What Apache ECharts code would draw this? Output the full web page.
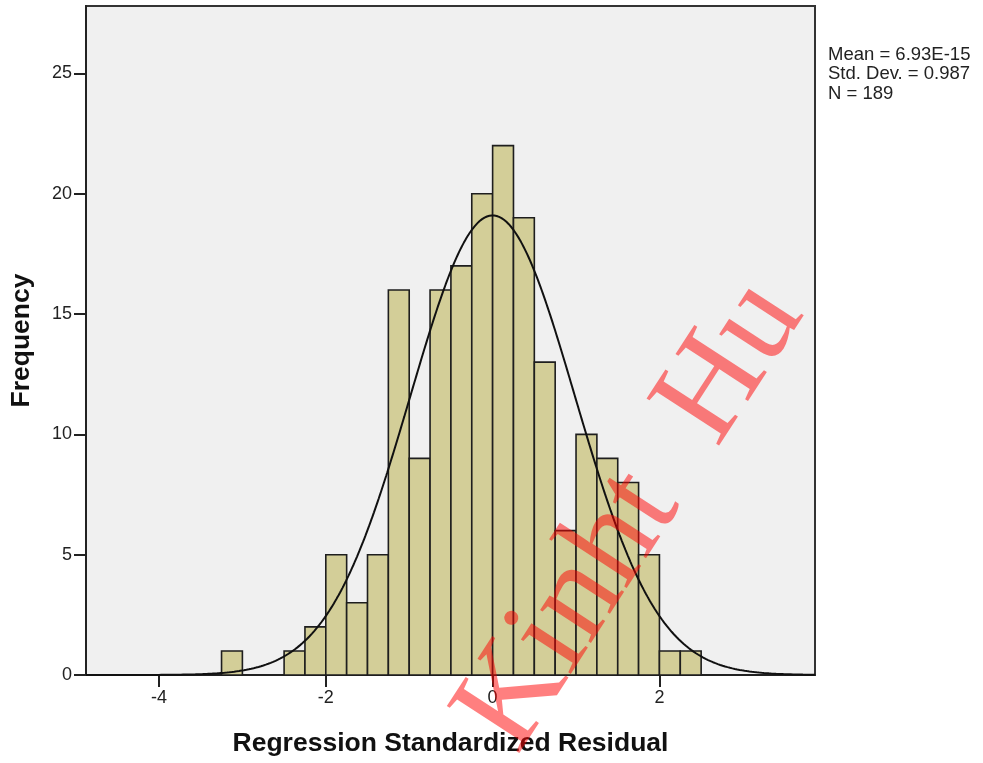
<!DOCTYPE html>
<html>
<head>
<meta charset="utf-8">
<script src="https://cdn.jsdelivr.net/npm/echarts@6/dist/echarts.min.js"></script>
<style>
  html, body { margin: 0; padding: 0; background: #ffffff; }
  #chart { width: 983px; height: 763px; }
</style>
</head>
<body>
<div id="chart"></div>
<script>
// Histogram bins of the standardized residuals (lower edge of each bin)
const binLower = [-3.25, -2.5, -2.25, -2, -1.75, -1.5, -1.25, -1, -0.75, -0.5, -0.25,
                  0, 0.25, 0.5, 0.75, 1, 1.25, 1.5, 1.75, 2, 2.25];
// Frequency in each bin
const counts = [1, 1, 2, 5, 3, 5, 16, 9, 16, 17, 20, 22, 19, 13, 6, 10, 9, 8, 5, 1, 1];
const binWidth = 0.25;

// Summary statistics used for the fitted normal curve
const residMean = 6.93e-15;
const residSd = 0.987;
const residN = 189;
const statLines = ['Mean = 6.93E-15', 'Std. Dev. = 0.987', 'N = 189'];

// Axis ticks
const xTicks = [-4, -2, 0, 2];
const yTicks = [0, 5, 10, 15, 20, 25];
const xRange = [-4.875, 3.865];
const yRange = [0, 27.8];

// Fitted normal density scaled to counts per bin
function normalCount(x) {
  const z = (x - residMean) / residSd;
  return residN * binWidth * Math.exp(-0.5 * z * z) / (residSd * Math.sqrt(2 * Math.PI));
}
const curve = [];
for (let i = 0; i <= 600; i++) {
  const x = xRange[0] + (xRange[1] - xRange[0]) * i / 600;
  curve.push([x, normalCount(x)]);
}

const barData = binLower.map((b, i) => [b, counts[i]]);

const chart = echarts.init(document.getElementById('chart'), null, { renderer: 'canvas' });

const axisFont = 'Liberation Sans, Arial, sans-serif';

chart.setOption({
  animation: false,
  backgroundColor: '#ffffff',
  grid: {
    left: 86, right: 168, top: 6, bottom: 88,
    containLabel: false,
    outerBoundsMode: 'none',
    show: true,
    backgroundColor: '#f0f0f0',
    borderColor: '#333333',
    borderWidth: 2
  },
  xAxis: {
    type: 'value',
    min: xRange[0], max: xRange[1],
    name: 'Regression Standardized Residual',
    nameLocation: 'middle',
    nameGap: 55,
    nameTextStyle: { fontFamily: axisFont, fontWeight: 'bold', fontSize: 26.5, color: '#111' },
    splitLine: { show: false },
    axisLine: { show: true, onZero: false, lineStyle: { color: '#222', width: 2 } },
    axisTick: { show: true, customValues: xTicks, length: 12, lineStyle: { color: '#222', width: 2 } },
    axisLabel: { customValues: xTicks, fontFamily: axisFont, fontSize: 18, color: '#222', margin: 14 }
  },
  yAxis: {
    type: 'value',
    min: yRange[0], max: yRange[1],
    name: 'Frequency',
    nameLocation: 'middle',
    nameRotate: 90,
    nameGap: 51,
    nameTextStyle: { fontFamily: axisFont, fontWeight: 'bold', fontSize: 26.5, color: '#111' },
    splitLine: { show: false },
    axisLine: { show: true, onZero: false, lineStyle: { color: '#222', width: 2 } },
    axisTick: { show: true, customValues: yTicks, length: 12, lineStyle: { color: '#222', width: 2 } },
    axisLabel: { customValues: yTicks, fontFamily: axisFont, fontSize: 18, color: '#222', margin: 14 }
  },
  series: [
    {
      type: 'custom',
      data: barData,
      encode: { x: 0, y: 1 },
      z: 2,
      renderItem: function (params, api) {
        const x0 = api.value(0);
        const h = api.value(1);
        const top = api.coord([x0, h]);
        const base = api.coord([x0 + binWidth, 0]);
        return {
          type: 'rect',
          shape: { x: top[0], y: top[1], width: base[0] - top[0], height: base[1] - top[1] },
          style: { fill: '#d3ce98', stroke: '#1e1e1e', lineWidth: 1.6 }
        };
      }
    },
    {
      type: 'line',
      data: curve,
      showSymbol: false,
      z: 3,
      lineStyle: { color: '#111', width: 2 }
    }
  ],
  graphic: [
    {
      type: 'text',
      x: 828, y: 45,
      style: {
        text: statLines.join('\n'),
        fontFamily: axisFont,
        fontSize: 18.5,
        lineHeight: 19.5,
        fill: '#222'
      }
    },
    {
      type: 'text',
      x: 632, y: 516,
      rotation: 57 * Math.PI / 180,
      z: 100,
      style: {
        text: 'Kinht  Hu',
        fontFamily: 'Liberation Serif, serif',
        fontSize: 132,
        fill: 'rgba(255, 0, 0, 0.5)',
        align: 'center',
        verticalAlign: 'middle'
      }
    }
  ]
});
</script>
</body>
</html>
